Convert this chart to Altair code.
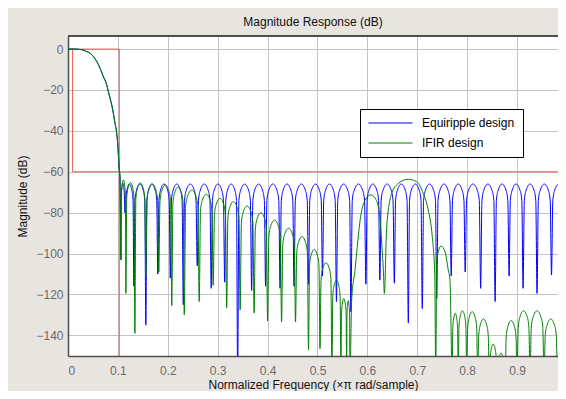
import altair as alt
import pandas as pd

# ---------------- values ----------------
# shared passband / transition band (both designs overlap there)
pass_f = [0.0, 0.0107, 0.0274, 0.0374, 0.0441, 0.0508, 0.0575, 0.0641, 0.0708, 0.0775,
          0.0808, 0.0842, 0.0875, 0.0908, 0.0942, 0.0975, 0.0995, 0.1008, 0.1028, 0.1042]
pass_db = [0.0, 0.0, -0.3, -1.2, -2.0, -3.6, -6.0, -9.3, -13.4, -17.4,
           -20.7, -24.0, -27.2, -31.3, -36.2, -41.0, -46.0, -50.8, -59.0, -62.3]

# Equiripple design: stopband nulls and lobe peak levels
eq_null_f = [0.106, 0.114, 0.132, 0.156, 0.180, 0.205, 0.231, 0.259, 0.287, 0.314,
             0.340, 0.368, 0.396, 0.425, 0.453, 0.482, 0.510, 0.538, 0.567, 0.597,
             0.625, 0.654, 0.682, 0.710, 0.739, 0.768, 0.796, 0.827, 0.856, 0.884,
             0.912, 0.940, 0.969, 0.998]
eq_null_db = [-103, -80, -116, -135, -110, -112, -125, -106, -117, -114,
              -160, -118, -116, -117, -116, -115, -111, -123.5, -128.5, -115,
              -113, -114.5, -134, -127, -122, -111, -109, -117, -123.5, -111,
              -117, -119.5, -110.5, -95]
eq_peak_db = [-65.5, -66, -66, -66, -66, -66, -66, -66, -66, -66,
              -66, -66, -66, -66, -66, -66, -66, -66, -66, -66,
              -66, -66, -66, -66, -66, -66, -66, -66, -66, -66,
              -66, -66, -66]

# IFIR design: regular lobes 0.106 .. 0.565
ifir_null_f = [0.106, 0.116, 0.134, 0.156, 0.182, 0.208, 0.233, 0.263, 0.291, 0.318,
               0.345, 0.373, 0.400, 0.428, 0.456, 0.482, 0.505, 0.529, 0.547, 0.5585,
               0.565]
ifir_null_db = [-103, -119.5, -139, -111, -109, -125.5, -130, -123.5, -115.5, -126.5,
                -127.5, -129, -133, -133.5, -133.5, -147, -146.5, -160, -160, -160,
                -160]
ifir_peak_db = [-64, -65.3, -65.5, -66, -66.5, -67.5, -69, -71, -73, -74.6,
                -76.7, -80, -83.6, -87.6, -91.7, -98, -104.5, -113, -122, -123]
# IFIR design: the two large arches and the small lobe after them
ifir_arch_f = [0.5685, 0.5752, 0.5792, 0.5852, 0.5952, 0.607, 0.617, 0.625, 0.6287, 0.632,
               0.634, 0.6387, 0.6487, 0.662, 0.682, 0.699, 0.712, 0.722, 0.730, 0.735,
               0.737, 0.739, 0.7475, 0.7555, 0.762, 0.7655]
ifir_arch_db = [-122.7, -108, -98, -84, -74, -71.3, -73.5, -82, -95, -108,
                -119.5, -87, -70.6, -65.7, -63.7, -64.9, -70.6, -78.7, -91.7, -110,
                -160, -103, -96.3, -99, -108, -113]
# IFIR design: low lobes 0.77 .. 1
ifir_tail_null_f = [0.770, 0.782, 0.799, 0.821, 0.8443, 0.860, 0.876, 0.900, 0.926, 0.954,
                    0.981, 0.995]
ifir_tail_null_db = [-160, -160, -160, -160, -160, -160, -160, -160, -160, -160,
                     -160, -160]
ifir_tail_peak_db = [-129.2, -128, -128.4, -132, -144.3, -148.7, -132.8, -128, -128, -132,
                     -147]

# lobe side profile: (fraction of lobe width from null, dB below peak)
lobe_edge = [(0.09, 8.0), (0.22, 3.0)]

# specification mask (red)
mask_seg = ["a", "a", "a", "b", "b", "b"]
mask_f = [0.0, 0.1028, 0.1028, 0.0092, 0.0092, 1.0]
mask_db = [0.0, 0.0, -160.0, 0.0, -60.0, -60.0]

series_names = ["Equiripple design", "IFIR design"]
series_colors = ["#0000ff", "#008000"]


def lobes(null_f, null_db, peak_db):
    pts = []
    for i, p in enumerate(peak_db):
        f0, f1 = null_f[i], null_f[i + 1]
        w = f1 - f0
        pts.append((f0, null_db[i]))
        for frac, drop in lobe_edge:
            pts.append((f0 + frac * w, p - drop))
        pts.append(((f0 + f1) / 2, p))
        for frac, drop in reversed(lobe_edge):
            pts.append((f1 - frac * w, p - drop))
    pts.append((null_f[-1], null_db[-1]))
    return pts


passband = list(zip(pass_f, pass_db))
eq_pts = passband + lobes(eq_null_f, eq_null_db, eq_peak_db)
ifir_pts = (passband + lobes(ifir_null_f, ifir_null_db, ifir_peak_db)
            + list(zip(ifir_arch_f, ifir_arch_db))
            + lobes(ifir_tail_null_f, ifir_tail_null_db, ifir_tail_peak_db))

rows = []
for name, pts in zip(series_names, [eq_pts, ifir_pts]):
    for i, (f, d) in enumerate(pts):
        rows.append({"f": f, "db": d, "series": name, "i": i})
curves = pd.DataFrame(rows)
mask = pd.DataFrame({"seg": mask_seg, "f": mask_f, "db": mask_db,
                     "i": list(range(len(mask_f)))})

W, H = 490, 320
XDOM = [0, 0.982]          # the plot is cut at the right window edge
YDOM = [-150.1, 6.4]
FONT = "Liberation Sans"
FRAME = "#4d4d4d"

x_enc = alt.X("f:Q", scale=alt.Scale(domain=XDOM, nice=False, zero=False),
              axis=alt.Axis(values=[0, 0.1, 0.2, 0.3, 0.4, 0.5, 0.6, 0.7, 0.8, 0.9],
                            format=".1~f", title="Normalized Frequency (\u00d7\u03c0 rad/sample)",
                            titleY=32, titleBaseline="alphabetic"))
y_enc = alt.Y("db:Q", scale=alt.Scale(domain=YDOM, nice=False, zero=False),
              axis=alt.Axis(values=[0, -20, -40, -60, -80, -100, -120, -140],
                            format="d", title="Magnitude (dB)",
                            titleX=-46, titleBaseline="middle"))

mask_layer = alt.Chart(mask).mark_line(color="#e8442e", strokeWidth=1, opacity=0.85,
                                       clip=True).encode(
    x=x_enc, y=y_enc, detail="seg:N", order="i:Q")

curve_layer = alt.Chart(curves).mark_line(strokeWidth=1, interpolate="monotone",
                                          clip=True).encode(
    x=x_enc, y=y_enc,
    color=alt.Color("series:N",
                    scale=alt.Scale(domain=series_names, range=series_colors),
                    legend=alt.Legend(title=None, orient="none", legendX=292, legendY=73,
                                      fillColor="white", strokeColor="black",
                                      padding=8, symbolType="M-1,0H7", symbolSize=121,
                                      symbolStrokeWidth=1, labelFontSize=12,
                                      labelFont=FONT, labelColor="black",
                                      labelOffset=42, rowPadding=8, labelLimit=200)),
    order="i:Q")

top_border = alt.Chart(mask).mark_rule(color=FRAME, strokeWidth=1).encode(
    x=alt.value(0), x2=alt.value(W), y=alt.value(0))

chart = alt.layer(mask_layer, curve_layer, top_border).properties(
    width=W, height=H,
    title=alt.TitleParams("Magnitude Response (dB)", fontSize=12, font=FONT,
                          fontWeight="normal", color="#111111", anchor="middle",
                          frame="group", baseline="alphabetic", offset=11, dy=13),
    autosize=alt.AutoSizeParams(type="none"),
    padding={"left": 60, "top": 28, "right": 0, "bottom": 35},
    background="#e8e4e0",
).configure_view(fill="white", stroke=None).configure_axis(
    grid=True, gridColor="#c4c4c4", gridWidth=1, domain=True, domainColor=FRAME,
    domainWidth=1.5, ticks=False,
    labelFont=FONT, labelFontSize=12, labelColor="#6a6a6a",
    titleFont=FONT, titleFontSize=12, titleFontWeight="normal", titleColor="#111111",
).configure_axisX(labelPadding=9).configure_axisY(labelPadding=5)

chart.save("out.html", embed_options={"renderer": "svg", "actions": False})
